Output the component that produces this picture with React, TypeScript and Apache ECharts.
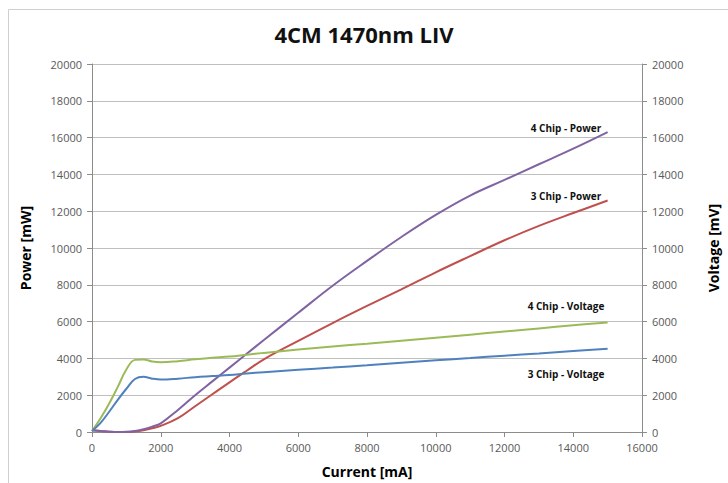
import React, { useEffect, useRef } from "react";
import * as echarts from "echarts";

const currents = [0, 250, 500, 750, 1000, 1250, 1500, 1750, 2000, 2500, 3000, 3500, 4000, 4500, 5000, 6000, 7000, 8000, 9000, 10000, 11000, 12000, 13000, 14000, 15000];
const power4 = [100, 60, 20, 0, 10, 60, 150, 290, 470, 1200, 2000, 2750, 3500, 4250, 5000, 6480, 7950, 9300, 10600, 11800, 12850, 13700, 14550, 15400, 16300];
const power3 = [100, 60, 20, 0, 0, 30, 100, 200, 330, 750, 1400, 2050, 2700, 3330, 3950, 4950, 5920, 6850, 7750, 8680, 9560, 10420, 11200, 11900, 12580];
const voltage4 = [50, 750, 1550, 2450, 3400, 3920, 3940, 3830, 3790, 3850, 3950, 4030, 4100, 4200, 4300, 4480, 4650, 4800, 4960, 5120, 5290, 5460, 5630, 5800, 5950];
const voltage3 = [50, 500, 1100, 1750, 2350, 2880, 3000, 2900, 2850, 2900, 2980, 3040, 3100, 3180, 3250, 3380, 3500, 3630, 3770, 3900, 4020, 4150, 4270, 4400, 4520];

const seriesNames = ["4 Chip - Power", "3 Chip - Power", "4 Chip - Voltage", "3 Chip - Voltage"];
const seriesColors = ["#8064A2", "#C0504D", "#9BBB59", "#4F81BD"];
const titleText = "4CM 1470nm LIV";
const xName = "Current [mA]";
const yLeftName = "Power [mW]";
const yRightName = "Voltage [mV]";

const pair = (ys: number[]) => currents.map((x, i) => [x, ys[i]]);

export default function App() {
  const ref = useRef<HTMLDivElement>(null);
  useEffect(() => {
    if (!ref.current) return;
    const chart = echarts.init(ref.current, null, { renderer: "svg" });
    const font = "'Open Sans', 'Noto Sans', sans-serif";
    const tickLabel = { color: "#595959", fontSize: 11, fontFamily: font, formatter: (v: number) => String(v) };
    const axisLine = { show: true, lineStyle: { color: "#8c8c8c", width: 1 } };
    const nameStyle = { color: "#000", fontSize: 14, fontWeight: "bold" as const, fontFamily: font };
    const yAxisCommon = {
      type: "value" as const,
      min: 0,
      max: 20000,
      interval: 2000,
      axisLine,
      axisTick: { show: true, length: 5, lineStyle: { color: "#8c8c8c" } },
      axisLabel: { ...tickLabel, margin: 10 },
      nameLocation: "middle" as const,
      nameTextStyle: nameStyle,
    };
    const labelY = [128, 196, 306, 374];
    chart.setOption({
      animation: false,
      backgroundColor: "#ffffff",
      title: {
        text: titleText,
        left: "center",
        top: 18,
        textStyle: { fontSize: 22, fontWeight: "bold", color: "#111", fontFamily: font },
      },
      grid: { left: 92, right: 83, top: 64, bottom: 51 },
      xAxis: {
        type: "value",
        min: 0,
        max: 16000,
        interval: 2000,
        axisLine,
        axisTick: { show: true, length: 5, lineStyle: { color: "#8c8c8c" } },
        axisLabel: { ...tickLabel, margin: 10 },
        splitLine: { show: false },
        name: xName,
        nameLocation: "middle",
        nameGap: 32,
        nameTextStyle: nameStyle,
      },
      yAxis: [
        {
          ...yAxisCommon,
          position: "left",
          name: yLeftName,
          nameGap: 60,
          splitLine: { show: true, lineStyle: { color: "#bfbfbf", width: 1 } },
        },
        {
          ...yAxisCommon,
          position: "right",
          name: yRightName,
          nameGap: 64,
          nameRotate: 90,
          splitLine: { show: false },
        },
      ],
      series: [
        { name: seriesNames[1], data: pair(power3), yAxisIndex: 0, color: seriesColors[1] },
        { name: seriesNames[0], data: pair(power4), yAxisIndex: 0, color: seriesColors[0] },
        { name: seriesNames[2], data: pair(voltage4), yAxisIndex: 1, color: seriesColors[2] },
        { name: seriesNames[3], data: pair(voltage3), yAxisIndex: 1, color: seriesColors[3] },
      ].map((s) => ({
        ...s,
        type: "line",
        smooth: 0.4,
        showSymbol: false,
        symbol: "none",
        lineStyle: { width: 2, color: s.color },
      })),
      graphic: [
        {
          type: "rect",
          left: 6,
          top: 7,
          shape: { x: 0, y: 0, width: 740, height: 500 },
          style: { fill: "none", stroke: "#d0d0d0", lineWidth: 1 },
          silent: true,
        },
        ...seriesNames.map((n, i) => ({
          type: "text",
          x: 566,
          y: labelY[i],
          style: {
            text: n,
            fill: "#111",
            font: `bold 10px ${font}`,
            textAlign: "center",
            textVerticalAlign: "middle",
          },
        })),
      ],
    });
    return () => chart.dispose();
  }, []);
  return <div ref={ref} style={{ position: "fixed", left: 0, top: 0, width: 728, height: 483 }} />;
}
